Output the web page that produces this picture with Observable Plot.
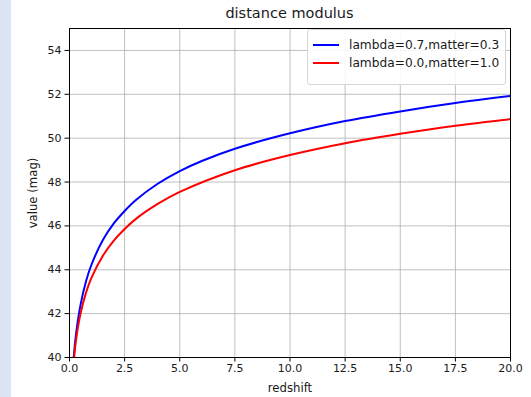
<!DOCTYPE html>
<html>
<head>
<meta charset="utf-8">
<script src="https://cdn.jsdelivr.net/npm/d3@7"></script>
<script src="https://cdn.jsdelivr.net/npm/@observablehq/plot@0.6"></script>
<style>
  html, body { margin: 0; padding: 0; background: #fff; }
  #wrap { position: relative; width: 531px; height: 397px; font-family: "DejaVu Sans", sans-serif; }
  #strip { position: absolute; left: 0; top: 0; width: 11px; height: 397px; background: #dbe4f4; }
  #title { position: absolute; left: 69px; width: 441px; top: 4px; text-align: center; font-size: 14.5px; line-height: 18px; color: #1a1a1a; }
  #legend { position: absolute; left: 307px; top: 29px; width: 199px; height: 56px; box-sizing: border-box;
            border: 1px solid #d6d6d6; border-radius: 3px; background: rgba(255,255,255,0.85); font-size: 12.2px; color: #1a1a1a; }
  .row { position: absolute; left: 5px; height: 14px; display: flex; align-items: center; white-space: nowrap; }
  .sw { width: 26px; height: 0; border-top: 2px solid; margin-right: 10px; }
</style>
</head>
<body>
<div id="wrap">
  <div id="strip"></div>
  <div id="chart"></div>
  <div id="title"></div>
  <div id="legend"></div>
</div>
<script>
const titleText = "distance modulus";
const xLabel = "redshift";
const yLabel = "value (mag)";
const seriesNames = ["lambda=0.7,matter=0.3", "lambda=0.0,matter=1.0"];
const seriesColors = ["#0000ff", "#ff0000"];

const blueZ  = [0.1, 0.19, 0.3, 0.5, 0.75, 1.0, 1.5, 2.0, 2.5, 3.0, 4.0, 5.0, 6.0, 7.5, 10, 12.5, 15, 17.5, 20];
const blueMu = [38.45, 40.0, 41.1, 42.4, 43.48, 44.24, 45.33, 46.1, 46.68, 47.17, 47.92, 48.5, 48.96, 49.52, 50.22, 50.78, 51.22, 51.6, 51.92];
const redZ   = [0.1, 0.2, 0.3, 0.5, 0.75, 1.0, 1.5, 2.0, 2.5, 3.0, 4.0, 5.0, 7.5, 10, 12.5, 15, 17.5, 20];
const redMu  = [38.35, 39.9, 40.82, 42.0, 42.96, 43.64, 44.62, 45.32, 45.86, 46.31, 47.0, 47.55, 48.54, 49.23, 49.77, 50.2, 50.57, 50.87];

const xTicks = [0, 2.5, 5, 7.5, 10, 12.5, 15, 17.5, 20];
const yTicks = [40, 42, 44, 46, 48, 50, 52, 54];

const data = [
  ...blueZ.map((z, i) => ({z, mu: blueMu[i], s: seriesNames[0]})),
  ...redZ.map((z, i) => ({z, mu: redMu[i], s: seriesNames[1]}))
];

const chart = Plot.plot({
  width: 531,
  height: 397,
  marginLeft: 69,
  marginRight: 21,
  marginTop: 28,
  marginBottom: 40,
  style: {fontFamily: "DejaVu Sans, sans-serif", fontSize: "11px", color: "#1a1a1a", background: "transparent"},
  x: {domain: [0, 20]},
  y: {domain: [40, 55]},
  color: {domain: seriesNames, range: seriesColors},
  marks: [
    Plot.gridX(xTicks, {stroke: "#b0b0b0", strokeOpacity: 1, strokeWidth: 0.8}),
    Plot.gridY(yTicks, {stroke: "#b0b0b0", strokeOpacity: 1, strokeWidth: 0.8}),
    Plot.line(data, {x: "z", y: "mu", z: "s", stroke: "s", strokeWidth: 2, curve: "catmull-rom", clip: true}),
    Plot.frame({stroke: "#000", strokeWidth: 1}),
    Plot.axisX(xTicks, {tickFormat: d => d.toFixed(1), tickSize: 4.5, tickPadding: 2.5, stroke: "#000",
      label: null, fontSize: 11}),
    Plot.axisX({label: xLabel, ticks: [], tickSize: 0, labelAnchor: "center", labelArrow: "none", labelOffset: 34, fontSize: 11.7}),
    Plot.axisY(yTicks, {tickSize: 4.5, tickPadding: 3.5, stroke: "#000", label: null, fontSize: 11}),
    Plot.axisY({label: yLabel, ticks: [], tickSize: 0, labelAnchor: "center", labelArrow: "none", labelOffset: 41, fontSize: 11.7})
  ]
});
document.getElementById("chart").appendChild(chart);
document.getElementById("title").textContent = titleText;

const legend = document.getElementById("legend");
seriesNames.forEach((name, i) => {
  const row = document.createElement("div");
  row.className = "row";
  row.style.top = (8 + i * 18) + "px";
  const sw = document.createElement("div");
  sw.className = "sw";
  sw.style.borderTopColor = seriesColors[i];
  const t = document.createElement("span");
  t.textContent = name;
  row.appendChild(sw);
  row.appendChild(t);
  legend.appendChild(row);
});
</script>
</body>
</html>
